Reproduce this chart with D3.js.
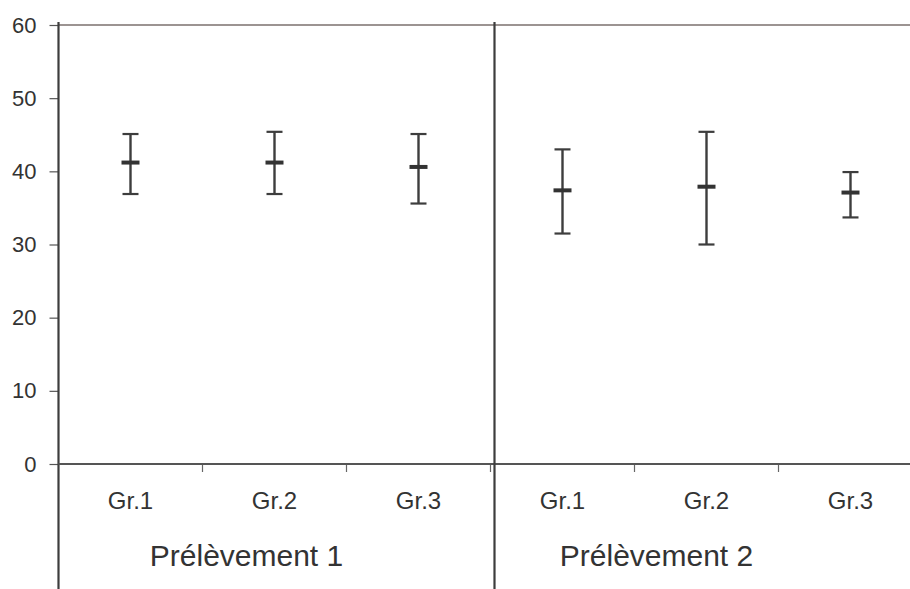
<!DOCTYPE html>
<html>
<head>
<meta charset="utf-8">
<script src="https://cdn.jsdelivr.net/npm/d3@7/dist/d3.min.js"></script>
<style>
  html, body { margin: 0; padding: 0; background: #ffffff; }
  svg { display: block; font-family: "Liberation Sans", Arial, sans-serif; }
</style>
</head>
<body>
<svg id="chart" width="910" height="589"></svg>
<script>
// Two sampling rounds, three groups each: mean with low/high error bar
const groups = ["Prélèvement 1", "Prélèvement 2"];
const categories = ["Gr.1", "Gr.2", "Gr.3", "Gr.1", "Gr.2", "Gr.3"];
const means = [41.2, 41.2, 40.6, 37.4, 37.9, 37.1];
const highs = [45.1, 45.4, 45.1, 43.0, 45.4, 39.9];
const lows  = [36.9, 36.9, 35.6, 31.5, 30.0, 33.7];
const yTicks = [0, 10, 20, 30, 40, 50, 60];

const svg = d3.select("#chart");
const W = 910, H = 589;
const plotLeft = 58.5, plotTop = 25, zeroY = 464;
const band = 144;

const ink = "#3d3d3d";
const textCol = "#333333";

const x = d3.scaleBand()
  .domain(d3.range(categories.length))
  .range([plotLeft, plotLeft + band * categories.length])
  .paddingInner(0).paddingOuter(0);

const y = d3.scaleLinear().domain([0, 60]).range([zeroY, plotTop]);

// top border of the plot area
svg.append("line")
  .attr("x1", plotLeft).attr("x2", W)
  .attr("y1", y(60)).attr("y2", y(60))
  .attr("stroke", "#9c9492").attr("stroke-width", 2);

// y axis
const yAxis = d3.axisLeft(y).tickValues(yTicks).tickSize(9).tickPadding(13);
const gy = svg.append("g").attr("transform", `translate(${plotLeft},0)`).call(yAxis);
gy.select(".domain").remove();
gy.selectAll(".tick line").attr("stroke", "#555").attr("stroke-width", 1.2);
gy.selectAll(".tick text")
  .attr("fill", textCol)
  .style("font-size", "22px")
  .style("font-family", "'Liberation Sans', Arial, sans-serif");

svg.append("line")
  .attr("x1", plotLeft).attr("x2", plotLeft)
  .attr("y1", plotTop - 3).attr("y2", H)
  .attr("stroke", ink).attr("stroke-width", 2.2);

// category ticks along zero
const catTicks = d3.range(1, categories.length).map(i => x(i));
svg.selectAll("line.ctick").data(catTicks).join("line")
  .attr("class", "ctick")
  .attr("x1", d => d).attr("x2", d => d)
  .attr("y1", zeroY).attr("y2", zeroY + 8)
  .attr("stroke", "#666").attr("stroke-width", 1.2);

svg.append("line")
  .attr("x1", plotLeft).attr("x2", W)
  .attr("y1", zeroY).attr("y2", zeroY)
  .attr("stroke", "#555").attr("stroke-width", 2);

// separator between the two sampling rounds
const sepX = x(3) + 4;
svg.append("line")
  .attr("x1", sepX).attr("x2", sepX)
  .attr("y1", plotTop - 3).attr("y2", H)
  .attr("stroke", ink).attr("stroke-width", 2.2);

// category labels
svg.selectAll("text.cat").data(categories).join("text")
  .attr("class", "cat")
  .attr("x", (d, i) => x(i) + x.bandwidth() / 2)
  .attr("y", 509)
  .attr("text-anchor", "middle")
  .attr("fill", textCol)
  .style("font-size", "24px")
  .text(d => d);

// group labels
const groupShift = [44, 22];
svg.selectAll("text.grp").data(groups).join("text")
  .attr("class", "grp")
  .attr("x", (d, i) => (x(i * 3) + x(i * 3 + 1)) / 2 + x.bandwidth() / 2 + groupShift[i])
  .attr("y", 566)
  .attr("text-anchor", "middle")
  .attr("fill", textCol)
  .style("font-size", "30px")
  .text(d => d);

// error bars
const bars = svg.append("g");
const data = categories.map((c, i) => ({ i, mean: means[i], hi: highs[i], lo: lows[i] }));
const cx = d => x(d.i) + x.bandwidth() / 2;

bars.selectAll("line.stem").data(data).join("line")
  .attr("class", "stem")
  .attr("x1", cx).attr("x2", cx)
  .attr("y1", d => y(d.hi)).attr("y2", d => y(d.lo))
  .attr("stroke", ink).attr("stroke-width", 2.4);

["hi", "lo"].forEach(k => {
  bars.selectAll("line.cap-" + k).data(data).join("line")
    .attr("class", "cap-" + k)
    .attr("x1", d => cx(d) - 8).attr("x2", d => cx(d) + 8)
    .attr("y1", d => y(d[k])).attr("y2", d => y(d[k]))
    .attr("stroke", ink).attr("stroke-width", 2.2);
});

bars.selectAll("line.mean").data(data).join("line")
  .attr("class", "mean")
  .attr("x1", d => cx(d) - 9).attr("x2", d => cx(d) + 9)
  .attr("y1", d => y(d.mean)).attr("y2", d => y(d.mean))
  .attr("stroke", "#333").attr("stroke-width", 4);
</script>
</body>
</html>
